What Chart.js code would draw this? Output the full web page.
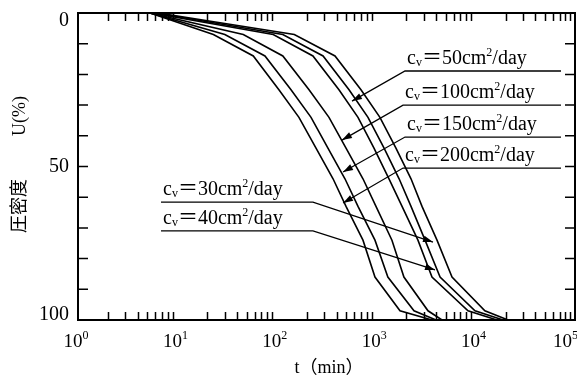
<!DOCTYPE html>
<html>
<head>
<meta charset="utf-8">
<script src="https://cdn.jsdelivr.net/npm/chart.js@4.4.0/dist/chart.umd.min.js"></script>
<style>
    body { margin: 0; background: #fff; }
    canvas { display: block; }
</style>
</head>
<body>
<canvas id="mycanvas" width="577" height="378"></canvas>
<script>
// degree of consolidation U (%) at the read-off points
var uLevels = [0, 7, 14, 25, 34, 44, 54, 63, 74, 86, 97, 100];

// time t (min) where each curve reaches the levels above
var tCv200 = [5.3, 23, 58, 105, 167, 248, 368, 497, 736, 972, 1735, 3640];
var tCv150 = [5.3, 30, 76, 139, 221, 327, 485, 656, 972, 1310, 2400, 4000];
var tCv100 = [5.3, 46, 115, 211, 335, 497, 736, 995, 1440, 1900, 3320, 4590];
var tCv50  = [5.5, 92, 231, 422, 656, 950, 1345, 1820, 2630, 3640, 8390, 16400];
var tCv40  = [6.0, 115, 292, 533, 827, 1200, 1700, 2240, 3100, 4390, 9860, 18900];
var tCv30  = [6.4, 150, 385, 703, 1090, 1580, 2240, 2890, 4090, 5790, 12400, 21200];

// tick labels
var xDecades = [0, 1, 2, 3, 4, 5];
var yLabels = [0, 50, 100];

// leader lines: label text, knee (t,U), end of underline t, arrow tip (t,U)
var notes = [
    { cv: '50',  knee: [1950, 18.9], end: 72300, tip: [571, 28.7] },
    { cv: '100', knee: [1862, 30.0], end: 72300, tip: [453, 41.4] },
    { cv: '150', knee: [1950, 40.4], end: 72300, tip: [464, 51.8] },
    { cv: '200', knee: [1862, 50.5], end: 72300, tip: [464, 61.9] },
    { cv: '30',  knee: [231, 61.6],  end: 6.84,  tip: [3727, 74.6] },
    { cv: '40',  knee: [231, 71.0],  end: 6.84,  tip: [3907, 83.7] }
];

var SERIF = '"Liberation Serif", "Noto Sans CJK JP", serif';

function makeSet(ts) {
    var pts = [];
    for (var i in ts) {
        pts.push({ x: ts[i], y: uLevels[i] });
    }
    return {
        data: pts,
        borderColor: '#000',
        borderWidth: 1.6,
        pointRadius: 0,
        tension: 0,
        fill: false
    };
}

// c_v=XXcm²/day written piece by piece
function drawCv(ctx, x, y, value) {
    ctx.textAlign = 'left';
    ctx.textBaseline = 'alphabetic';
    ctx.font = '20px ' + SERIF;
    ctx.fillText('c', x, y);
    x += ctx.measureText('c').width;
    ctx.font = '12px ' + SERIF;
    ctx.fillText('v', x, y + 2);
    x += ctx.measureText('v').width;
    ctx.font = '20px ' + SERIF;
    var s = '\uFF1D' + value + 'cm';
    ctx.fillText(s, x, y);
    x += ctx.measureText(s).width;
    ctx.font = '12px ' + SERIF;
    ctx.fillText('2', x, y - 8);
    x += ctx.measureText('2').width;
    ctx.font = '20px ' + SERIF;
    ctx.fillText('/day', x, y);
}

function arrowHead(ctx, x0, y0, x1, y1) {
    var a = Math.atan2(y1 - y0, x1 - x0);
    var len = 10, half = 3.2;
    ctx.beginPath();
    ctx.moveTo(x1, y1);
    ctx.lineTo(x1 - len * Math.cos(a) + half * Math.sin(a), y1 - len * Math.sin(a) - half * Math.cos(a));
    ctx.lineTo(x1 - len * Math.cos(a) - half * Math.sin(a), y1 - len * Math.sin(a) + half * Math.cos(a));
    ctx.closePath();
    ctx.fill();
}

var framePlugin = {
    id: 'frameAndText',
    afterDraw: function(chart) {
        var ctx = chart.ctx;
        var area = chart.chartArea;
        var xs = chart.scales.x, ys = chart.scales.y;
        ctx.save();
        ctx.strokeStyle = '#000';
        ctx.fillStyle = '#000';

        // frame
        ctx.lineWidth = 2;
        ctx.strokeRect(area.left, area.top, area.right - area.left, area.bottom - area.top);

        // inward ticks
        ctx.lineWidth = 1.5;
        ctx.beginPath();
        for (var v = 10; v < 100; v += 10) {
            var py = ys.getPixelForValue(v);
            ctx.moveTo(area.left, py); ctx.lineTo(area.left + 10, py);
            ctx.moveTo(area.right, py); ctx.lineTo(area.right - 10, py);
        }
        for (var d = 0; d < 5; d++) {
            for (var m = 2; m <= 9; m++) {
                var px = Math.round(xs.getPixelForValue(m * Math.pow(10, d))) + 0.5;
                ctx.moveTo(px, area.top); ctx.lineTo(px, area.top + 8);
                ctx.moveTo(px, area.bottom); ctx.lineTo(px, area.bottom - 8);
            }
        }
        ctx.stroke();

        // y labels
        ctx.font = '20px ' + SERIF;
        ctx.textAlign = 'right';
        yLabels.forEach(function(v) {
            var py = ys.getPixelForValue(v);
            if (v === 0) { ctx.textBaseline = 'top'; py = area.top - 2; }
            else if (v === 100) { ctx.textBaseline = 'alphabetic'; py = area.bottom; }
            else { ctx.textBaseline = 'middle'; }
            ctx.fillText(String(v), area.left - 9, py);
        });

        // x labels 10^n
        ctx.textBaseline = 'alphabetic';
        ctx.textAlign = 'left';
        xDecades.forEach(function(n) {
            var px = xs.getPixelForValue(Math.pow(10, n));
            ctx.font = '19px ' + SERIF;
            var w1 = ctx.measureText('10').width;
            ctx.font = '12px ' + SERIF;
            var x0 = Math.min(px - w1 / 2 - 5, 553);
            ctx.font = '19px ' + SERIF;
            ctx.fillText('10', x0, 347);
            ctx.font = '12px ' + SERIF;
            ctx.fillText(String(n), x0 + w1, 339);
        });

        // axis titles
        ctx.font = '18px ' + SERIF;
        ctx.textAlign = 'center';
        ctx.fillText('t\uFF08min\uFF09', 329, 373);
        ctx.save();
        ctx.translate(20, 0);
        ctx.rotate(-Math.PI / 2);
        ctx.textBaseline = 'middle';
        ctx.font = '18px ' + SERIF;
        ctx.fillText('圧密度', -206, 0);
        ctx.fillText('U(%)', -116, 0);
        ctx.restore();

        // leader lines with labels
        ctx.lineWidth = 1.3;
        notes.forEach(function(n) {
            var kx = xs.getPixelForValue(n.knee[0]), ky = ys.getPixelForValue(n.knee[1]);
            var ex = xs.getPixelForValue(n.end);
            var tx = xs.getPixelForValue(n.tip[0]), ty = ys.getPixelForValue(n.tip[1]);
            ctx.beginPath();
            ctx.moveTo(ex, ky);
            ctx.lineTo(kx, ky);
            ctx.lineTo(tx, ty);
            ctx.stroke();
            arrowHead(ctx, kx, ky, tx, ty);
            drawCv(ctx, Math.min(kx, ex) + 2, ky - 7, n.cv);
        });

        ctx.restore();
    }
};

var ctx = document.getElementById('mycanvas').getContext('2d');
var chart = new Chart(ctx, {
    type: 'line',
    data: {
        datasets: [tCv200, tCv150, tCv100, tCv50, tCv40, tCv30].map(makeSet)
    },
    options: {
        responsive: false,
        animation: false,
        devicePixelRatio: 1,
        layout: { padding: { left: 78, right: 2, top: 13, bottom: 58 } },
        plugins: { legend: { display: false }, tooltip: { enabled: false } },
        scales: {
            x: { type: 'logarithmic', min: 1, max: 100000, display: false },
            y: { type: 'linear', min: 0, max: 100, reverse: true, display: false }
        }
    },
    plugins: [framePlugin]
});
</script>
</body>
</html>
